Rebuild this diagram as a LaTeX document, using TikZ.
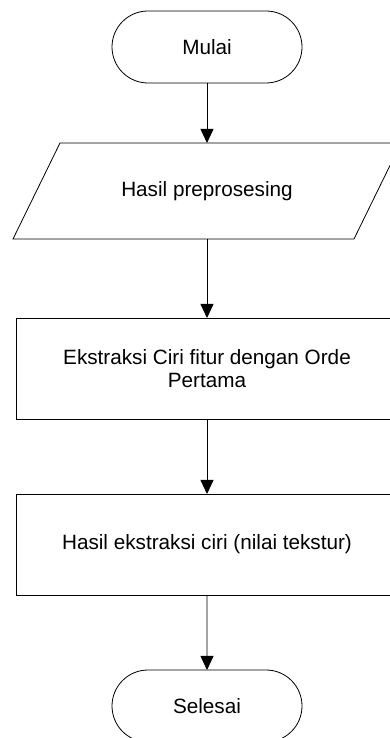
\documentclass[tikz,border=0pt]{standalone}
\usepackage{fontspec}
\setmainfont{Liberation Sans}
\usetikzlibrary{positioning, shapes.misc, arrows.meta}

\begin{document}
\begin{tikzpicture}[
        x=1pt, y=1pt,
        node distance=75pt,
        every node/.style={font=\fontsize{20.7}{23}\selectfont, inner sep=0pt, outer sep=0pt},
        term/.style={rounded rectangle, draw, line width=0.8pt, minimum width=190pt, minimum height=72pt, align=center},
        io/.style={rectangle, minimum width=341pt, minimum height=96pt, align=center},
        proc/.style={rectangle, draw, line width=0.8pt, minimum width=382pt, minimum height=101pt, align=center},
        slant/.style={line width=0.8pt},
        arrow/.style={-{Triangle[length=14pt, width=13pt]}, line width=0.8pt}
    ]
        \clip (0,0) rectangle (390,738);

        % Start
        \node[term] (MULAI) at (207,691) {Mulai};

        % Input
        \node[io, below=60pt of MULAI] (INPUT) {Hasil preprosesing};
        \draw[slant] ([xshift=-23.5pt]INPUT.south west) -- ([xshift=-23.5pt]INPUT.south east)
            -- ([xshift=23.5pt]INPUT.north east) -- ([xshift=23.5pt]INPUT.north west) -- cycle;

        % Process
        \node[proc, below=79pt of INPUT] (EKSTRAKSI) {Ekstraksi Ciri fitur dengan Orde\\Pertama};
        \node[proc, below=of EKSTRAKSI] (HASIL) {Hasil ekstraksi ciri (nilai tekstur)};

        % End
        \node[term, below=of HASIL] (SELESAI) {Selesai};

        % Arrows
        \draw[arrow] (MULAI) -- (INPUT);
        \draw[arrow] (INPUT) -- (EKSTRAKSI);
        \draw[arrow] (EKSTRAKSI) -- (HASIL);
        \draw[arrow] (HASIL) -- (SELESAI);
    \end{tikzpicture}
\end{document}
